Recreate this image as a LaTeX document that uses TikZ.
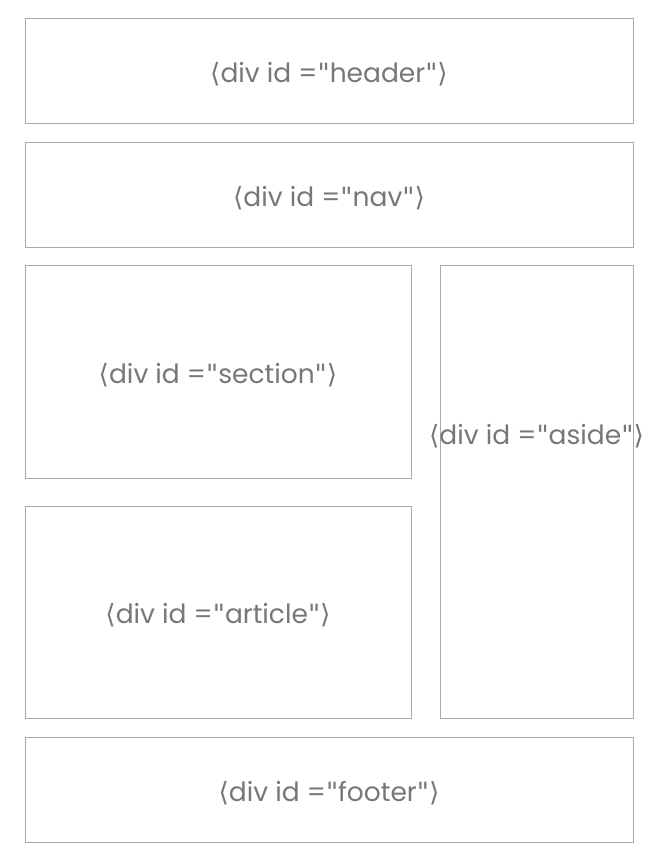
\documentclass[tikz,border=0pt]{standalone}
\usepackage{fontspec}
\setmainfont{Poppins}
\newfontfamily\bracketfont{DejaVu Sans}
\definecolor{boxline}{HTML}{AAAAAA}
\definecolor{divgray}{HTML}{777777}
\newcommand{\divlabel}[1]{{\bracketfont\symbol{"27E8}}div id ={\bracketfont\symbol{"22}}#1{\bracketfont\symbol{"22}}{\bracketfont\symbol{"27E9}}}
\tikzset{
  divbox/.style={draw=boxline, line width=0.8pt, inner sep=0pt, text=divgray,
    text height=24pt, text depth=1pt, font=\fontsize{26.5}{30}\selectfont},
  divtext/.style={text=divgray, inner sep=0pt, text height=24pt, text depth=1pt,
    font=\fontsize{26.5}{30}\selectfont}
}
\begin{document}
\begin{tikzpicture}[x=1pt, y=-1pt]
\useasboundingbox (0,0) rectangle (667,863);

\node [divbox, minimum width=608pt, minimum height=105pt] (header) at (329,70.5) {\divlabel{header}};
\node [divbox, minimum width=608pt, minimum height=105pt] (nav) at (329,194.5) {\divlabel{nav}};
\node [divbox, minimum width=386pt, minimum height=213pt] (section) at (218,371.5) {\divlabel{section}};
\node [divbox, minimum width=386pt, minimum height=212pt] (article) at (218,612) {\divlabel{article}};
\node [divbox, minimum width=193pt, minimum height=453pt] (aside) at (536.5,491.5) {};
\node [divtext] (asidetext) at ([yshift=59pt]aside.center) {\divlabel{aside}};
\node [divbox, minimum width=608pt, minimum height=105pt] (footer) at (329,789.5) {\divlabel{footer}};
\end{tikzpicture}
\end{document}
